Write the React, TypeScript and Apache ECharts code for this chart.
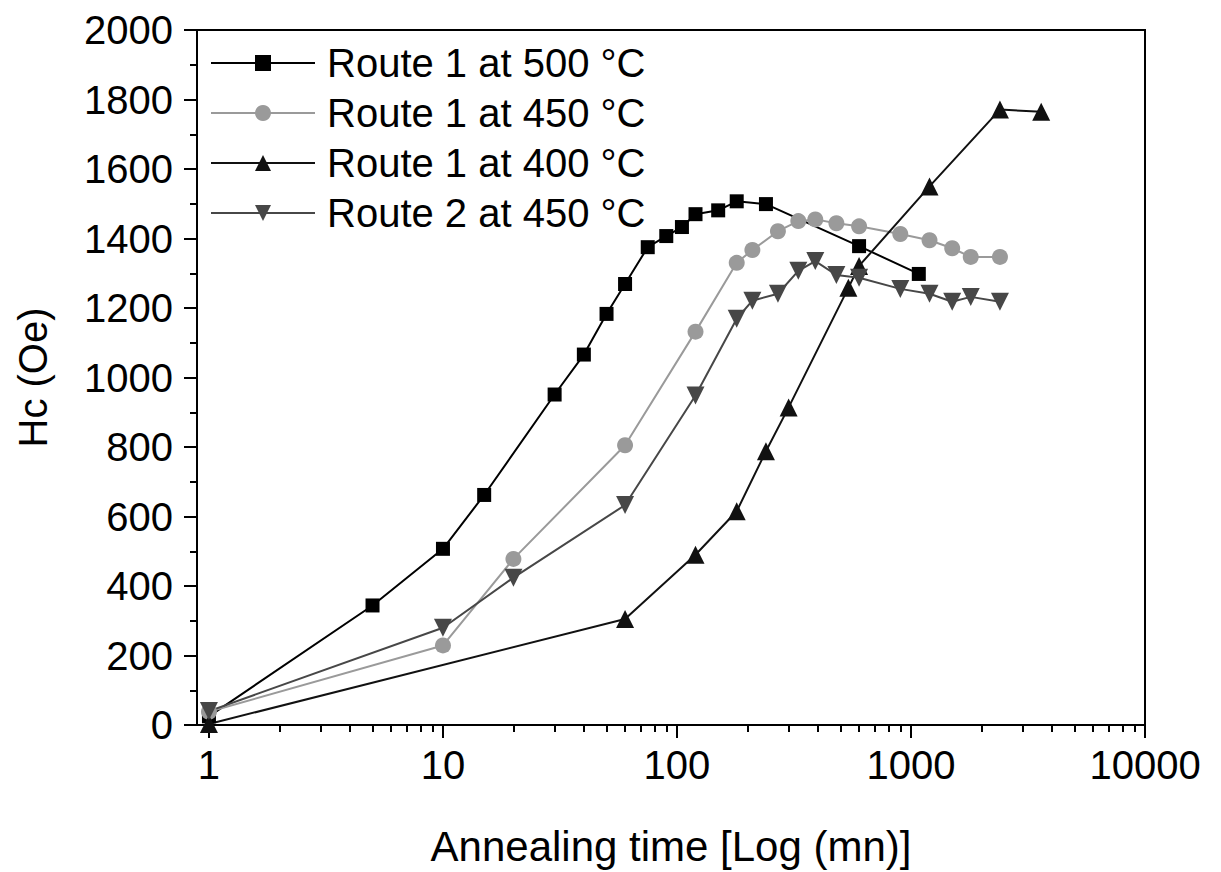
import React, { useEffect, useRef } from "react";
import * as echarts from "echarts";

// Annealing time (mn) and Hc (Oe) per series
const r1_500_t = [1, 5, 10, 15, 30, 40, 50, 60, 75, 90, 105, 120, 150, 180, 240, 600, 1080];
const r1_500_hc = [25, 344, 507, 662, 951, 1066, 1183, 1269, 1375, 1407, 1433, 1470, 1481, 1507, 1499, 1378, 1298];

const r1_450_t = [1, 10, 20, 60, 120, 180, 210, 270, 330, 390, 480, 600, 900, 1200, 1500, 1800, 2400];
const r1_450_hc = [38, 229, 478, 805, 1132, 1330, 1367, 1421, 1450, 1455, 1444, 1435, 1413, 1395, 1372, 1347, 1347];

const r1_400_t = [1, 60, 120, 180, 240, 300, 540, 600, 1200, 2400, 3600];
const r1_400_hc = [3, 305, 490, 615, 788, 914, 1258, 1321, 1550, 1771, 1765];

const r2_450_t = [1, 10, 20, 60, 120, 180, 210, 270, 330, 390, 480, 600, 900, 1200, 1500, 1800, 2400];
const r2_450_hc = [40, 280, 424, 633, 948, 1169, 1221, 1241, 1307, 1335, 1295, 1287, 1255, 1241, 1218, 1232, 1218];

const seriesNames = ["Route 1 at 500 °C", "Route 1 at 450 °C", "Route 1 at 400 °C", "Route 2 at 450 °C"];

const xMin = 0.889;
const xMax = 10000;
const xMajorTicks = [1, 10, 100, 1000, 10000];
const xMinorMultipliers = [2, 3, 4, 5, 6, 7, 8, 9];
const xMinorDecades = [1, 10, 100, 1000];
const yMin = 0;
const yMax = 2000;
const yInterval = 200;

const FONT = "'Liberation Sans', Arial, sans-serif";

function pairs(t: number[], v: number[]) {
  return t.map((x, i) => [x, v[i]]);
}

export default function App() {
  const ref = useRef<HTMLDivElement>(null);
  useEffect(() => {
    if (!ref.current) return;
    const chart = echarts.init(ref.current, null, { renderer: "svg" });
    const lg = (v: number) => Math.log10(v);
    const minorVals: number[] = [];
    xMinorDecades.forEach((d) => xMinorMultipliers.forEach((k) => minorVals.push(lg(k * d))));

    const mk = (name: string, data: number[][], color: string, symbol: string, size: number) => ({
      name,
      type: "line",
      xAxisIndex: 0,
      yAxisIndex: 0,
      data,
      symbol,
      symbolSize: size,
      showSymbol: true,
      lineStyle: { color, width: 2 },
      itemStyle: { color, borderWidth: 0 },
      z: 3,
    });

    chart.setOption({
      animation: false,
      backgroundColor: "#fff",
      textStyle: { fontFamily: FONT },
      grid: {
        left: 197,
        right: 76,
        top: 30,
        bottom: 144,
        show: true,
        borderColor: "#000",
        borderWidth: 2,
        backgroundColor: "transparent",
      },
      legend: {
        orient: "vertical",
        left: 210,
        top: 43,
        padding: 0,
        itemWidth: 104,
        itemHeight: 20,
        itemGap: 10,
        textStyle: { fontSize: 40, color: "#000", fontFamily: FONT, padding: [0, 0, 0, 7] },
        data: seriesNames,
      },
      xAxis: [
        {
          type: "log",
          logBase: 10,
          min: xMin,
          max: xMax,
          position: "bottom",
          axisLine: { show: true, onZero: false, lineStyle: { color: "#000", width: 2 } },
          axisTick: { show: false },
          axisLabel: { show: false },
          splitLine: { show: false },
          minorTick: { show: false },
        },
        {
          type: "value",
          min: lg(xMin),
          max: lg(xMax),
          position: "bottom",
          axisLine: { show: false, onZero: false },
          axisTick: {
            show: true,
            inside: false,
            length: 13,
            customValues: xMajorTicks.map(lg),
            lineStyle: { color: "#000", width: 2 },
          },
          axisLabel: {
            show: true,
            customValues: xMajorTicks.map(lg),
            formatter: (v: number) => String(Math.round(Math.pow(10, v))),
            fontSize: 40,
            color: "#000",
            fontFamily: FONT,
            margin: 20,
          },
          splitLine: { show: false },
          name: "Annealing time [Log (mn)]",
          nameLocation: "middle",
          nameGap: 100,
          nameTextStyle: { fontSize: 42, color: "#000", fontFamily: FONT, verticalAlign: "top" },
        },
        {
          type: "value",
          min: lg(xMin),
          max: lg(xMax),
          position: "bottom",
          axisLine: { show: false, onZero: false },
          axisTick: {
            show: true,
            inside: false,
            length: 7,
            customValues: minorVals,
            lineStyle: { color: "#000", width: 2 },
          },
          axisLabel: { show: false },
          splitLine: { show: false },
        },
      ],
      yAxis: {
        type: "value",
        min: yMin,
        max: yMax,
        interval: yInterval,
        axisLine: { show: true, onZero: false, lineStyle: { color: "#000", width: 2 } },
        axisTick: { show: true, inside: false, length: 13, lineStyle: { color: "#000", width: 2 } },
        minorTick: { show: true, splitNumber: 2, length: 7, lineStyle: { color: "#000", width: 2 } },
        axisLabel: {
          fontSize: 40,
          color: "#000",
          fontFamily: FONT,
          margin: 24,
          formatter: (v: number) => String(v),
        },
        splitLine: { show: false },
        minorSplitLine: { show: false },
        name: "Hc (Oe)",
        nameLocation: "middle",
        nameGap: 144,
        nameTextStyle: { fontSize: 40, color: "#000", fontFamily: FONT },
      },
      series: [
        mk(seriesNames[0], pairs(r1_500_t, r1_500_hc), "#000000", "rect", 14),
        mk(seriesNames[1], pairs(r1_450_t, r1_450_hc), "#9a9a9a", "circle", 16),
        mk(seriesNames[2], pairs(r1_400_t, r1_400_hc), "#111111", "triangle", 18),
        mk(seriesNames[3], pairs(r2_450_t, r2_450_hc), "#474747", "path://M0,0L10,0L5,9Z", 18),
      ],
    });
    return () => chart.dispose();
  }, []);
  return (
    <div
      ref={ref}
      style={{ position: "fixed", left: 0, top: 0, width: 1221, height: 872, background: "#fff" }}
    />
  );
}
